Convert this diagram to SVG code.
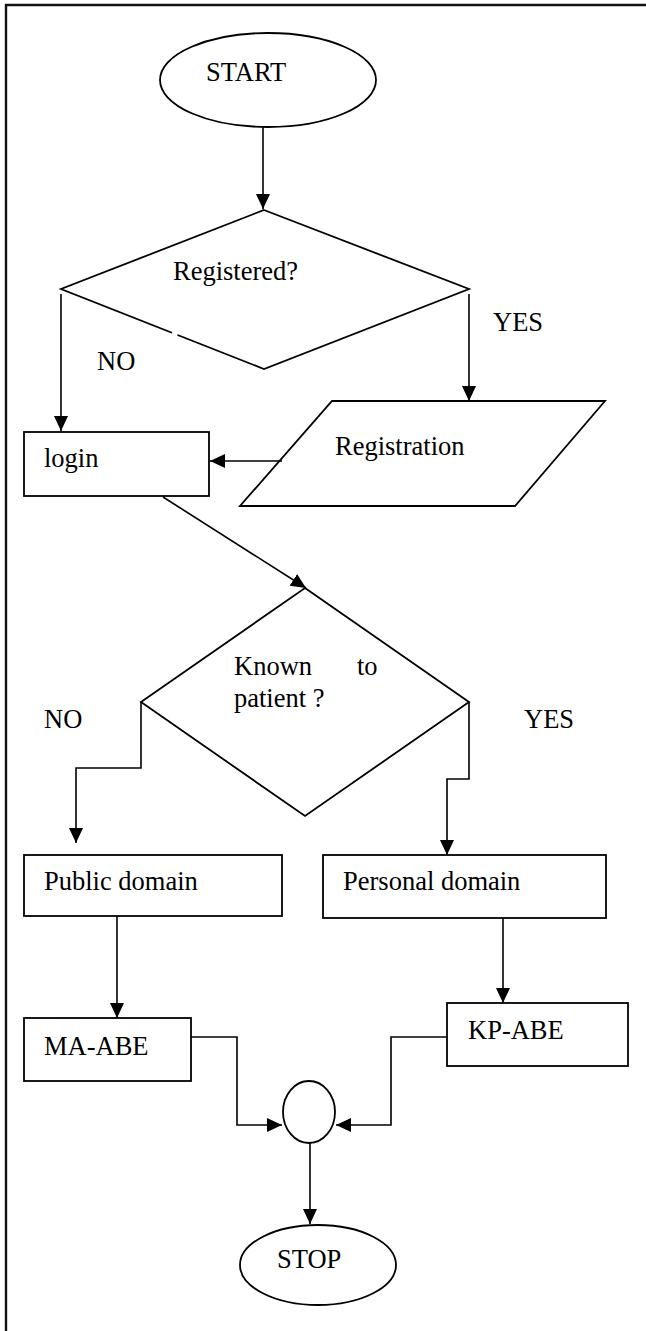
<svg xmlns="http://www.w3.org/2000/svg" width="646" height="1331" viewBox="0 0 646 1331">
<defs>
<style>
.s{fill:#fff;stroke:#000;stroke-width:1.8}
.c{fill:none;stroke:#000;stroke-width:1.6}
.t{font-family:"Liberation Serif","Times New Roman",serif;font-size:26.5px;fill:#000}
</style>
<marker id="ah" markerUnits="userSpaceOnUse" markerWidth="16" markerHeight="15" refX="15" refY="7" orient="auto">
<path d="M0,0 L15,7 L0,14 z" fill="#000"/>
</marker>
</defs>
<rect width="646" height="1331" fill="#fff"/>
<g id="frame">
<path d="M6,1331 V5 H646" fill="none" stroke="#111" stroke-width="2.4"/>
</g>
<g id="start">
<ellipse class="s" cx="268" cy="80" rx="108" ry="47"/>
<text class="t" x="206" y="81">START</text>
</g>
<g id="registered">
<polygon class="s" points="264,210 469,289 264,369 61,289"/>
<line x1="172" y1="332.8" x2="177.5" y2="335" stroke="#fff" stroke-width="3"/>
<text class="t" x="173" y="280">Registered?</text>
</g>
<g id="login">
<rect class="s" x="24" y="432" width="185" height="64"/>
<text class="t" x="44" y="467">login</text>
</g>
<g id="registration">
<polygon class="s" points="332,401 605,401 515,506 240,506"/>
<text class="t" x="335" y="455">Registration</text>
</g>
<g id="known">
<polygon class="s" points="305,588 469,702 305,816 141,702"/>
<text class="t" x="234" y="675">Known</text>
<text class="t" x="357" y="675">to</text>
<text class="t" x="234" y="707">patient ?</text>
</g>
<g id="public">
<rect class="s" x="24" y="855" width="258" height="61"/>
<text class="t" x="44" y="890">Public domain</text>
</g>
<g id="personal">
<rect class="s" x="323" y="855" width="283" height="63"/>
<text class="t" x="343" y="890">Personal domain</text>
</g>
<g id="maabe">
<rect class="s" x="24" y="1018" width="167" height="63"/>
<text class="t" x="44" y="1055">MA-ABE</text>
</g>
<g id="kpabe">
<rect class="s" x="447" y="1003" width="181" height="63"/>
<text class="t" x="468" y="1039">KP-ABE</text>
</g>
<g id="merge">
<ellipse class="s" cx="309" cy="1112" rx="26" ry="31"/>
</g>
<g id="stop">
<ellipse class="s" cx="318" cy="1265" rx="78" ry="40"/>
<text class="t" x="277" y="1268">STOP</text>
</g>
<g id="labels">
<text class="t" x="97" y="370">NO</text>
<text class="t" x="493" y="331">YES</text>
<text class="t" x="44" y="728">NO</text>
<text class="t" x="524" y="728">YES</text>
</g>
<g id="connectors">
<path class="c" d="M263,127 V209" marker-end="url(#ah)"/>
<path class="c" d="M61,294 V431" marker-end="url(#ah)"/>
<path class="c" d="M469,294 V401" marker-end="url(#ah)"/>
<path class="c" d="M282,461 H210" marker-end="url(#ah)"/>
<path class="c" d="M163,497 L306,588" marker-end="url(#ah)"/>
<path class="c" d="M141,702 V768 H76 V843" marker-end="url(#ah)"/>
<path class="c" d="M469,702 V779 H447 V855" marker-end="url(#ah)"/>
<path class="c" d="M117,916 V1018" marker-end="url(#ah)"/>
<path class="c" d="M503,918 V1003" marker-end="url(#ah)"/>
<path class="c" d="M191,1037 H237 V1125 H282" marker-end="url(#ah)"/>
<path class="c" d="M447,1037 H391 V1125 H336" marker-end="url(#ah)"/>
<path class="c" d="M310,1143 V1224" marker-end="url(#ah)"/>
</g>
</svg>
